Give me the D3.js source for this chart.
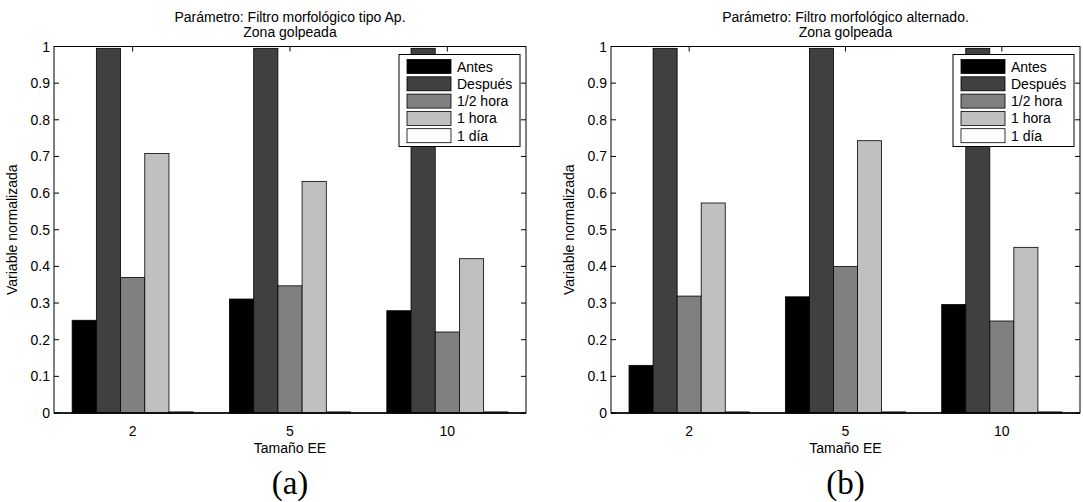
<!DOCTYPE html>
<html>
<head>
<meta charset="utf-8">
<script src="https://cdn.jsdelivr.net/npm/d3@7"></script>
<style>
  body { margin: 0; background: #fff; }
  text { font-family: "Liberation Sans", Arial, sans-serif; }
</style>
</head>
<body>
<div class="canvas"></div>
<script>
// data
const categories = ['2', '5', '10'];
const series = ['Antes', 'Después', '1/2 hora', '1 hora', '1 día'];
// one row per category, one value per series
const valuesA = [
  [0.253, 0.995, 0.370, 0.708, 0.003],
  [0.311, 0.995, 0.347, 0.632, 0.003],
  [0.279, 0.995, 0.221, 0.421, 0.003]
];
const valuesB = [
  [0.130, 0.995, 0.319, 0.573, 0.003],
  [0.317, 0.995, 0.400, 0.743, 0.003],
  [0.296, 0.995, 0.251, 0.452, 0.003]
];
const yTicks = [0, 0.1, 0.2, 0.3, 0.4, 0.5, 0.6, 0.7, 0.8, 0.9, 1];
const titlesA = ['Parámetro: Filtro morfológico tipo Ap.', 'Zona golpeada'];
const titlesB = ['Parámetro: Filtro morfológico alternado.', 'Zona golpeada'];

const fills = ['#000000', '#404040', '#808080', '#c0c0c0', '#ffffff'];
const colour = d3.scaleOrdinal().domain(series).range(fills);

const fs = '14px';

const svg = d3.select('.canvas')
  .append('svg')
  .attr('width', 1083)
  .attr('height', 502);

// draw one matlab-style grouped bar panel
const drawPanel = (opt) => {
  const { left, right, top, bottom, values, titles, tag } = opt;
  const w = right - left;

  const g = svg.append('g');

  const y = d3.scaleLinear().domain([0, 1]).range([bottom, top]);

  // xlim [0.5, 3.5], group width 0.769 of a step
  const gw = 5 / 6.5;
  const x0 = d3.scaleBand()
    .domain(categories)
    .range([left, right])
    .paddingInner(1 - gw)
    .paddingOuter((1 - gw) / 2);

  const x1 = d3.scaleBand()
    .domain(series)
    .range([0, x0.bandwidth()]);

  // bars
  const groups = g.selectAll('g.grp')
    .data(values)
    .enter().append('g')
      .attr('class', 'grp')
      .attr('transform', (d, i) => `translate(${x0(categories[i])},0)`);

  groups.selectAll('rect')
    .data(d => d.map((v, j) => ({ name: series[j], v })))
    .enter().append('rect')
      .attr('x', d => x1(d.name))
      .attr('y', d => y(d.v))
      .attr('width', x1.bandwidth())
      .attr('height', d => y(0) - y(d.v))
      .attr('fill', d => colour(d.name))
      .attr('stroke', '#000')
      .attr('stroke-width', 0.8);

  // axes box
  g.append('rect')
    .attr('x', left).attr('y', top)
    .attr('width', w).attr('height', bottom - top)
    .attr('fill', 'none')
    .attr('stroke', '#000')
    .attr('stroke-width', 1);
  // bottom axis line is a bit heavier
  g.append('line')
    .attr('x1', left).attr('x2', right)
    .attr('y1', bottom).attr('y2', bottom)
    .attr('stroke', '#000')
    .attr('stroke-width', 1.5);

  const tl = 5;
  // y ticks, left and right
  yTicks.forEach(t => {
    g.append('line')
      .attr('x1', left).attr('x2', left + tl)
      .attr('y1', y(t)).attr('y2', y(t))
      .attr('stroke', '#000');
    g.append('line')
      .attr('x1', right).attr('x2', right - tl)
      .attr('y1', y(t)).attr('y2', y(t))
      .attr('stroke', '#000');
    g.append('text')
      .attr('x', left - 4)
      .attr('y', y(t))
      .attr('dy', '0.36em')
      .attr('text-anchor', 'end')
      .style('font-size', fs)
      .text(d3.format('')(t));
  });

  // x ticks, top and labels
  categories.forEach(c => {
    const cx = x0(c) + x0.bandwidth() / 2;
    g.append('line')
      .attr('x1', cx).attr('x2', cx)
      .attr('y1', top).attr('y2', top + tl)
      .attr('stroke', '#000');
    g.append('text')
      .attr('x', cx)
      .attr('y', bottom + 23)
      .attr('text-anchor', 'middle')
      .style('font-size', fs)
      .text(c);
  });

  const mid = (left + right) / 2;

  // titles
  titles.forEach((t, i) => {
    g.append('text')
      .attr('x', mid)
      .attr('y', 22 + i * 14.5)
      .attr('text-anchor', 'middle')
      .style('font-size', fs)
      .text(t);
  });

  g.append('text')
    .attr('x', mid)
    .attr('y', bottom + 40)
    .attr('text-anchor', 'middle')
    .style('font-size', fs)
    .text('Tamaño EE');

  g.append('text')
    .attr('transform', `translate(${left - 37}, ${(top + bottom) / 2}) rotate(-90)`)
    .attr('text-anchor', 'middle')
    .style('font-size', fs)
    .text('Variable normalizada');

  // panel tag
  g.append('text')
    .attr('x', mid)
    .attr('y', 494)
    .attr('text-anchor', 'middle')
    .style('font-family', '"Liberation Serif", "DejaVu Serif", serif')
    .style('font-size', '33px')
    .text(tag);

  // legend
  const lg = g.append('g')
    .attr('transform', `translate(${right - 127}, ${top + 8})`);
  lg.append('rect')
    .attr('width', 121).attr('height', 92)
    .attr('fill', '#fff')
    .attr('stroke', '#000')
    .attr('stroke-width', 1);
  const items = lg.selectAll('g.item')
    .data(series)
    .enter().append('g')
      .attr('class', 'item')
      .attr('transform', (d, i) => `translate(8, ${5 + i * 17.3})`);
  items.append('rect')
    .attr('width', 44).attr('height', 14)
    .attr('fill', d => colour(d))
    .attr('stroke', '#000')
    .attr('stroke-width', 0.8);
  items.append('text')
    .attr('x', 50)
    .attr('y', 7)
    .attr('dy', '0.36em')
    .style('font-size', fs)
    .text(d => d);
};

drawPanel({ left: 54, right: 526, top: 46.5, bottom: 413, values: valuesA, titles: titlesA, tag: '(a)' });
drawPanel({ left: 611, right: 1080, top: 46.5, bottom: 413, values: valuesB, titles: titlesB, tag: '(b)' });
</script>
</body>
</html>
